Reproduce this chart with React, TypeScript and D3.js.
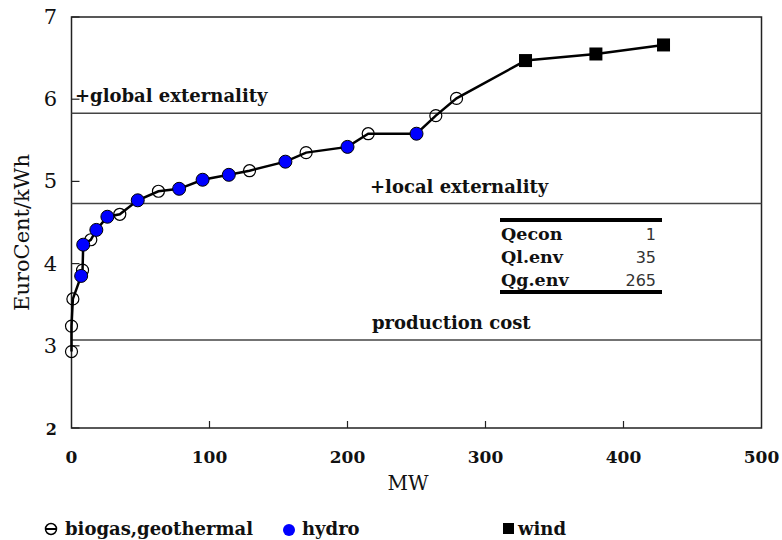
import React from "react";
import * as d3 from "d3";

// ---- data ----
const biogasMW = [0, 0, 1, 8, 14, 35, 63, 129, 170, 215, 264, 279];
const biogasCost = [2.93, 3.24, 3.57, 3.92, 4.29, 4.6, 4.88, 5.13, 5.35, 5.58, 5.8, 6.01];
const hydroMW = [7, 8.5, 18, 26, 48, 78, 95, 114, 155, 200, 250];
const hydroCost = [3.85, 4.23, 4.41, 4.57, 4.77, 4.91, 5.02, 5.08, 5.24, 5.42, 5.58];
const windMW = [329, 380, 429];
const windCost = [6.47, 6.55, 6.66];

// curve order of points (source, index)
const curveOrder: [string, number][] = [
  ["b", 0], ["b", 1], ["b", 2], ["h", 0], ["b", 3], ["h", 1], ["b", 4], ["h", 2], ["h", 3],
  ["b", 5], ["h", 4], ["b", 6], ["h", 5], ["h", 6], ["h", 7], ["b", 7], ["h", 8], ["b", 8],
  ["h", 9], ["b", 9], ["h", 10], ["b", 10], ["b", 11], ["w", 0], ["w", 1], ["w", 2],
];

const refLabels = ["+global externality", "+local externality", "production cost"];
const refValues = [5.83, 4.73, 3.07];

const tableNames = ["Qecon", "Ql.env", "Qg.env"];
const tableValues = ["1", "35", "265"];

const xTicks = [0, 100, 200, 300, 400, 500];
const yTicks = [2, 3, 4, 5, 6, 7];

const legendLabels = ["biogas,geothermal", "hydro", "wind"];

export default function App() {
  const W = 782, H = 540;
  const x = d3.scaleLinear().domain([0, 500]).range([71.5, 761.5]);
  const y = d3.scaleLinear().domain([2, 7]).range([428, 17]);
  const serif = "'DejaVu Serif', serif";

  const getPt = ([s, i]: [string, number]): [number, number] => {
    if (s === "b") return [biogasMW[i], biogasCost[i]];
    if (s === "h") return [hydroMW[i], hydroCost[i]];
    return [windMW[i], windCost[i]];
  };
  const line = d3.line<[number, number]>().x((d) => x(d[0])).y((d) => y(d[1]));
  const curvePts = curveOrder.map(getPt);

  const [x0, x1] = x.range();
  const [yb, yt] = y.range();

  const labelPos = [
    { x: 75, dy: -11 },
    { x: 370, dy: -11 },
    { x: 372, dy: -11 },
  ];

  return (
    <div style={{ position: "absolute", left: 0, top: 0 }}>
      <svg width={W} height={H} style={{ display: "block", background: "#fff" }}>
        {/* frame */}
        <rect x={x0} y={yt} width={x1 - x0} height={yb - yt} fill="none" stroke="#222" strokeWidth={1.5} />
        {/* y ticks */}
        {yTicks.map((t) => (
          <g key={"yt" + t}>
            <line x1={x0} x2={x0 + 8} y1={y(t)} y2={y(t)} stroke="#222" strokeWidth={1.2} />
            <text x={57} y={y(t) + 7} textAnchor="end" fontFamily={serif} fontSize={t === 2 ? 16 : 21} fontWeight={t === 2 ? "bold" : "normal"} fill="#111">
              {t}
            </text>
          </g>
        ))}
        {/* x ticks */}
        {xTicks.map((t) => (
          <g key={"xt" + t}>
            {t > 0 && t < 500 && <line x1={x(t)} x2={x(t)} y1={yb} y2={yb - 7} stroke="#222" strokeWidth={1.2} />}
            <text x={x(t)} y={463} textAnchor="middle" fontFamily={serif} fontSize={17} fontWeight="bold" fill="#111">
              {t}
            </text>
          </g>
        ))}
        <text x={408} y={490} textAnchor="middle" fontFamily={serif} fontSize={20} fill="#111">MW</text>
        <text transform={`translate(29,${(yb + yt) / 2 + 10}) rotate(-90)`} textAnchor="middle" fontFamily={serif} fontSize={21} fill="#111">
          EuroCent/kWh
        </text>

        {/* reference lines */}
        {refValues.map((v, i) => (
          <g key={"ref" + i}>
            <line x1={x0} x2={x1} y1={y(v)} y2={y(v)} stroke="#444" strokeWidth={1.5} />
            <text x={labelPos[i].x} y={y(v) + labelPos[i].dy} fontFamily={serif} fontSize={18} fontWeight="bold" fill="#111">
              {refLabels[i]}
            </text>
          </g>
        ))}

        {/* table */}
        <line x1={500} x2={662} y1={220} y2={220} stroke="#000" strokeWidth={4} />
        <line x1={500} x2={662} y1={292} y2={292} stroke="#000" strokeWidth={4} />
        {tableNames.map((n, i) => (
          <g key={"tb" + i}>
            <text x={501} y={240 + i * 23} fontFamily={serif} fontSize={17.5} fontWeight="bold" fill="#111">{n}</text>
            <text x={656} y={240 + i * 23} textAnchor="end" fontFamily="'DejaVu Sans', sans-serif" fontSize={16} fill="#333">{tableValues[i]}</text>
          </g>
        ))}

        {/* curve */}
        <path d={line(curvePts) || ""} fill="none" stroke="#000" strokeWidth={2.5} />
        {biogasMW.map((m, i) => (
          <circle key={"b" + i} cx={x(m)} cy={y(biogasCost[i])} r={6} fill="none" stroke="#000" strokeWidth={1.2} />
        ))}
        {hydroMW.map((m, i) => (
          <circle key={"h" + i} cx={x(m)} cy={y(hydroCost[i])} r={6.5} fill="#0000ff" stroke="#000" strokeWidth={1} />
        ))}
        {windMW.map((m, i) => (
          <rect key={"w" + i} x={x(m) - 6.5} y={y(windCost[i]) - 6.5} width={13} height={13} fill="#000" />
        ))}

        {/* legend */}
        <g>
          <circle cx={51} cy={529} r={5.5} fill="none" stroke="#000" strokeWidth={1.5} />
          <line x1={45} x2={57} y1={529} y2={529} stroke="#000" strokeWidth={2} />
          <text x={65} y={535} fontFamily={serif} fontSize={18} fontWeight="bold" fill="#111">{legendLabels[0]}</text>
          <circle cx={289} cy={530} r={6} fill="#0000ff" />
          <text x={302} y={535} fontFamily={serif} fontSize={18} fontWeight="bold" fill="#111">{legendLabels[1]}</text>
          <rect x={503} y={523} width={11} height={11} fill="#000" />
          <text x={518} y={535} fontFamily={serif} fontSize={18} fontWeight="bold" fill="#111">{legendLabels[2]}</text>
        </g>
      </svg>
    </div>
  );
}
